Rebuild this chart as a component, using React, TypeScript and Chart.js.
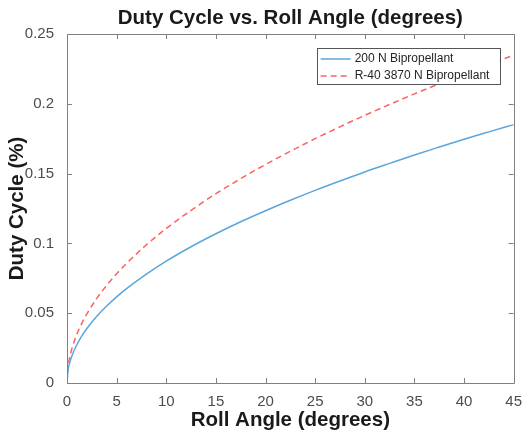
import React, { useEffect, useRef } from "react";
import { Chart, registerables } from "chart.js";

Chart.register(...registerables);

const rollAngle = [0, 0.1, 0.25, 0.5, 1, 1.5, 2, 3, 4, 5, 6, 8, 10, 12.5, 15, 17.5, 20, 22.5, 25, 27.5, 30, 32.5, 35, 37.5, 40, 42.5, 45];
const duty200N = [0, 0.009, 0.014, 0.0195, 0.0276, 0.0338, 0.039, 0.0478, 0.0552, 0.0617, 0.0676, 0.078, 0.0873, 0.0976, 0.1069, 0.1155, 0.1234, 0.1309, 0.138, 0.1447, 0.1512, 0.1573, 0.1633, 0.169, 0.1746, 0.1799, 0.1851];
const dutyR40 = [0, 0.011, 0.0175, 0.0247, 0.035, 0.0429, 0.0495, 0.0606, 0.07, 0.0783, 0.0857, 0.099, 0.1107, 0.1237, 0.1356, 0.1464, 0.1565, 0.166, 0.175, 0.1835, 0.1917, 0.1995, 0.2071, 0.2143, 0.2214, 0.2282, 0.2348];
const seriesNames = ["200 N Bipropellant", "R-40 3870 N Bipropellant"];
const titleText = "Duty Cycle vs. Roll Angle (degrees)";
const xTitle = "Roll Angle (degrees)";
const yTitle = "Duty Cycle (%)";

const FONT = "'Liberation Sans', Arial, Helvetica, sans-serif";
const BLUE = "#5aa6dc";
const RED = "#ff6060";
const AXIS = "#808080";

const decorPlugin = {
  id: "decor",
  beforeDraw(chart: any) {
    const ctx = chart.ctx;
    ctx.save();
    ctx.fillStyle = "#ffffff";
    ctx.fillRect(0, 0, chart.width, chart.height);
    ctx.restore();
  },
  afterDatasetsDraw(chart: any) {
    const ctx = chart.ctx;
    const { left, right, top, bottom } = chart.chartArea;
    const xs = chart.scales.x;
    const ys = chart.scales.y;
    ctx.save();
    ctx.strokeStyle = AXIS;
    ctx.lineWidth = 1;
    ctx.beginPath();
    ctx.rect(Math.round(left) + 0.5, Math.round(top) + 0.5, Math.round(right - left), Math.round(bottom - top));
    ctx.stroke();
    const tl = 5;
    ctx.beginPath();
    xs.ticks.forEach((t: any) => {
      const px = Math.round(xs.getPixelForValue(t.value)) + 0.5;
      ctx.moveTo(px, bottom);
      ctx.lineTo(px, bottom - tl);
      ctx.moveTo(px, top);
      ctx.lineTo(px, top + tl);
    });
    ys.ticks.forEach((t: any) => {
      const py = Math.round(ys.getPixelForValue(t.value)) + 0.5;
      ctx.moveTo(left, py);
      ctx.lineTo(left + tl, py);
      ctx.moveTo(right, py);
      ctx.lineTo(right - tl, py);
    });
    ctx.stroke();

    // legend
    const lw = 183;
    const lh = 36;
    const lx = right - 14 - lw;
    const ly = top + 14;
    ctx.fillStyle = "#ffffff";
    ctx.fillRect(lx, ly, lw, lh);
    ctx.strokeStyle = "#555555";
    ctx.strokeRect(Math.round(lx) + 0.5, Math.round(ly) + 0.5, lw, lh);
    const rows = [
      { name: seriesNames[0], color: BLUE, dash: [] as number[] },
      { name: seriesNames[1], color: RED, dash: [6, 4] },
    ];
    rows.forEach((r, i) => {
      const y = ly + 11 + i * 17;
      ctx.strokeStyle = r.color;
      ctx.lineWidth = 1.5;
      ctx.setLineDash(r.dash);
      ctx.beginPath();
      ctx.moveTo(lx + 4, y);
      ctx.lineTo(lx + 34, y);
      ctx.stroke();
      ctx.setLineDash([]);
      ctx.fillStyle = "#262626";
      ctx.font = `12px ${FONT}`;
      ctx.textBaseline = "middle";
      ctx.textAlign = "left";
      ctx.fillText(r.name, lx + 38, y);
    });

    // title
    ctx.fillStyle = "#1a1a1a";
    ctx.font = `bold 20.5px ${FONT}`;
    ctx.textAlign = "center";
    ctx.textBaseline = "middle";
    ctx.fillText(titleText, (left + right) / 2, 18);
    ctx.restore();
  },
};

export default function App() {
  const ref = useRef<HTMLCanvasElement | null>(null);
  useEffect(() => {
    document.body.style.margin = "0";
    const canvas = ref.current;
    if (!canvas) return;
    const chart = new Chart(canvas, {
      type: "line",
      data: {
        datasets: [
          {
            label: seriesNames[0],
            data: rollAngle.map((x, i) => ({ x, y: duty200N[i] })),
            borderColor: BLUE,
            borderWidth: 1.5,
            pointRadius: 0,
            cubicInterpolationMode: "monotone",
            fill: false,
          },
          {
            label: seriesNames[1],
            data: rollAngle.map((x, i) => ({ x, y: dutyR40[i] })),
            borderColor: RED,
            borderWidth: 1.5,
            borderDash: [6, 4],
            pointRadius: 0,
            cubicInterpolationMode: "monotone",
            fill: false,
          },
        ],
      },
      options: {
        animation: false,
        responsive: false,
        devicePixelRatio: 1,
        layout: { padding: { top: 34, right: 9, left: 0, bottom: 0 } },
        plugins: { legend: { display: false }, title: { display: false }, tooltip: { enabled: false } },
        scales: {
          x: {
            type: "linear",
            min: 0,
            max: 45,
            grid: { display: false },
            border: { display: false },
            ticks: { stepSize: 5, color: "#4d4d4d", font: { family: FONT, size: 15 }, padding: 2, maxRotation: 0 },
            title: { display: true, text: xTitle, color: "#1a1a1a", font: { family: FONT, size: 20.5, weight: "bold" }, padding: { top: 0, bottom: 2 } },
            afterFit: (s: any) => { s.height = 52; },
          },
          y: {
            type: "linear",
            min: 0,
            max: 0.25,
            grid: { display: false },
            border: { display: false },
            ticks: {
              stepSize: 0.05,
              color: "#4d4d4d",
              font: { family: FONT, size: 15 },
              padding: 5,
              callback: (v: any) => String(Number(Number(v).toFixed(2))),
            },
            title: { display: true, text: yTitle, color: "#1a1a1a", font: { family: FONT, size: 20.5, weight: "bold" }, padding: { top: 5, bottom: 0 } },
            afterFit: (s: any) => { s.width = 67; },
          },
        },
      },
      plugins: [decorPlugin],
    } as any);
    return () => chart.destroy();
  }, []);
  return (
    <div style={{ position: "absolute", left: 0, top: 0, width: 524, height: 435 }}>
      <canvas ref={ref} width={524} height={435} style={{ width: 524, height: 435, display: "block" }} />
    </div>
  );
}
